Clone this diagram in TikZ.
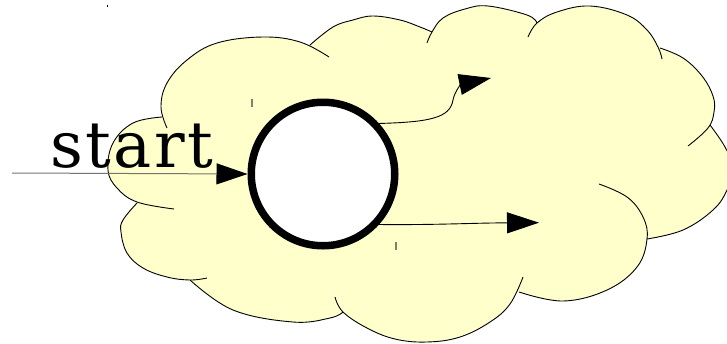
\documentclass[tikz,border=0pt]{standalone}
\usepackage{fontspec}
\setmainfont{DejaVu Serif}
\usetikzlibrary{arrows.meta}
\definecolor{cloudyellow}{RGB}{255,255,204}
\definecolor{tickgray}{RGB}{128,128,104}
\tikzset{
  cloudfill/.style={fill=cloudyellow},
  cloudline/.style={draw=black,line width=0.9pt},
  conn/.style={draw=black,line width=0.9pt,-{Triangle[length=32pt,width=21pt]}},
  startconn/.style={draw=black!55,line width=1pt,-{Triangle[length=31pt,width=21pt,color=black]}},
  statenode/.style={circle,draw=black,fill=white,line width=7.5pt,minimum size=143.5pt,inner sep=0pt},
  ticklbl/.style={draw=tickgray,line width=1.6pt},
}
\newcommand\cloudlobes[1]{%
  #1{(167,128) (161,107) (167,83) (187,60) (217,43) (263,37) (300,42) (329,57)}%
  #1{(310,45) (333,27) (353,20) (373,16) (400,20) (420,27) (432,32)}%
  #1{(427,43) (432,32) (443,18) (465,9) (488,6) (527,15) (537,23)}%
  #1{(528,37) (537,23) (557,12) (590,6) (627,15) (647,30) (658,47) (662,59)}%
  #1{(660,48) (683,58) (702,76) (713,96) (714,112) (708,128) (688,146)}%
  #1{(710,125) (725,147) (733,168) (727,190) (713,210) (683,230) (647,239)}%
  #1{(519,292) (563,301) (607,290) (637,267) (647,239) (643,217) (627,197) (599,184)}%
  #1{(335,297) (343,312) (367,328) (395,339) (427,342) (460,337) (490,322) (510,304) (523,277)}%
  #1{(190,280) (233,310) (293,322) (330,318) (343,312)}%
  #1{(137,203) (123,220) (121,232) (127,253) (143,268) (167,277) (190,280) (207,278)}%
  #1{(162,117) (133,123) (113,143) (108,170) (117,188) (137,202) (174,209)}%
}
\newcommand\lobefill[1]{\fill[cloudfill] plot[smooth,tension=.65] coordinates {#1} -- cycle;}
\newcommand\lobedraw[1]{\draw[cloudline] plot[smooth,tension=.65] coordinates {#1};}
\begin{document}
\begin{tikzpicture}[x=1pt,y=-1pt]
\useasboundingbox (0,0) rectangle (727,343);
\begin{scope}
  \clip (0,0) rectangle (727,343);
  \fill[cloudfill] (162,117) -- (310,45) -- (432,32) -- (537,23) -- (660,48) -- (710,125)
    -- (647,239) -- (518,292) -- (343,312) -- (190,280) -- (137,203) -- cycle;
  \cloudlobes\lobefill
  \cloudlobes\lobedraw
\end{scope}
% small marks
\draw[ticklbl] (251.7,98.5) -- (251.7,106.5);
\draw[ticklbl] (395.7,242) -- (395.7,250);
\fill[black] (106.8,5) rectangle (108.4,6.6);
% state
\node[statenode] (s) at (323,174) {};
\node[anchor=base west,font=\fontsize{64}{64}\selectfont,inner sep=0pt] (lbl) at (50,167.5) {s\kern2.6pt t\kern2.6pt a\kern2.6pt r\kern2.6pt t};
\coordinate (st0) at (12,173);
\coordinate (t1) at (491,78);
\coordinate (t2) at (539,222.7);
\draw[startconn] (st0) -- (s.west);
\draw[conn] (s.42) .. controls (430,122) and (450,118) .. (453,100) .. controls (455,90) and (462,84) .. (t1);
\draw[conn] (s.-42) .. controls (440,225) and (470,223) .. (t2);
\end{tikzpicture}
\end{document}
